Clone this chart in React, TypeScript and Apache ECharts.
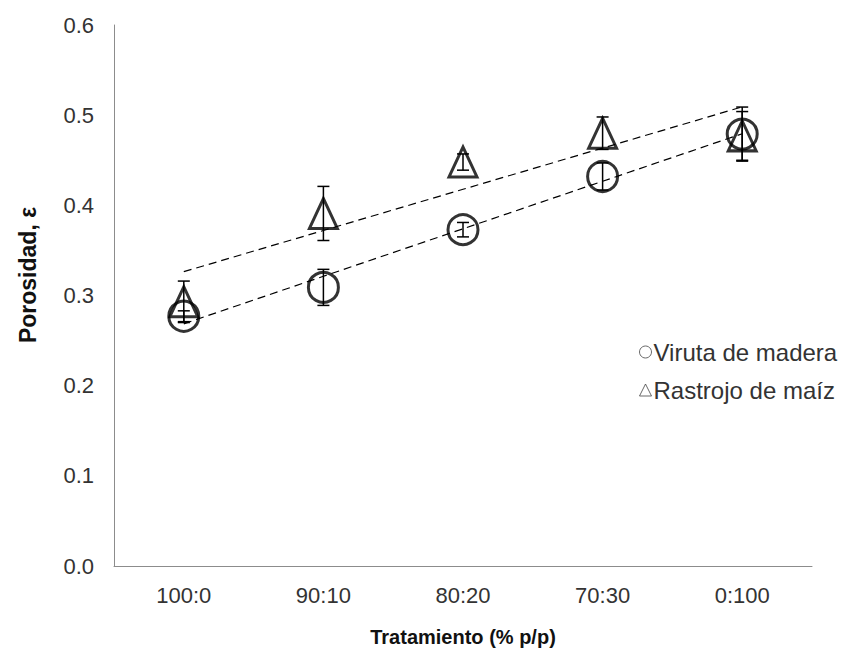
import React, { useEffect, useRef } from "react";
import * as echarts from "echarts";

const categories = ["100:0", "90:10", "80:20", "70:30", "0:100"];
const virutaMean = [0.277, 0.309, 0.373, 0.432, 0.479];
const virutaErr = [0.006, 0.02, 0.008, 0.015, 0.03];
const rastrojoMean = [0.293, 0.391, 0.448, 0.48, 0.477];
const rastrojoErr = [0.023, 0.03, 0.009, 0.018, 0.027];
const yTicks = [0, 0.1, 0.2, 0.3, 0.4, 0.5, 0.6];

const FONT = "'Liberation Sans', Arial, sans-serif";

function linearFit(ys: number[]): number[] {
  const n = ys.length;
  const xs = ys.map((_, i) => i);
  const mx = xs.reduce((a, b) => a + b, 0) / n;
  const my = ys.reduce((a, b) => a + b, 0) / n;
  let num = 0;
  let den = 0;
  xs.forEach((x, i) => {
    num += (x - mx) * (ys[i] - my);
    den += (x - mx) * (x - mx);
  });
  const b = num / den;
  return xs.map((x) => my + b * (x - mx));
}

function errorSeries(mean: number[], err: number[]) {
  return {
    type: "custom",
    z: 5,
    silent: true,
    data: mean.map((m, i) => [i, m - err[i], m + err[i]]),
    renderItem: (params: any, api: any) => {
      const x = api.value(0);
      const lo = api.coord([x, api.value(1)]);
      const hi = api.coord([x, api.value(2)]);
      const cap = 6;
      const style = { stroke: "#000", lineWidth: 1.5 };
      return {
        type: "group",
        children: [
          { type: "line", shape: { x1: lo[0], y1: lo[1], x2: hi[0], y2: hi[1] }, style },
          { type: "line", shape: { x1: lo[0] - cap, y1: lo[1], x2: lo[0] + cap, y2: lo[1] }, style },
          { type: "line", shape: { x1: hi[0] - cap, y1: hi[1], x2: hi[0] + cap, y2: hi[1] }, style },
        ],
      };
    },
  };
}

export default function App() {
  const ref = useRef<HTMLDivElement>(null);
  useEffect(() => {
    if (!ref.current) return;
    const chart = echarts.init(ref.current, undefined, { renderer: "svg" });
    const trendStyle = { color: "#000", width: 1.2, type: [8, 5] as any };
    chart.setOption({
      animation: false,
      backgroundColor: "#fff",
      textStyle: { fontFamily: FONT },
      grid: { left: 114, top: 25, right: 34, bottom: 90, containLabel: false },
      graphic: [
        {
          type: "text",
          x: 28,
          y: 275,
          rotation: Math.PI / 2,
          style: {
            text: "Porosidad, ε",
            fontSize: 23,
            fontWeight: "bold",
            fontFamily: FONT,
            fill: "#111",
            align: "center",
            verticalAlign: "middle",
          },
        },
      ],
      legend: {
        orient: "vertical",
        left: 634,
        top: 335,
        itemGap: 14,
        itemWidth: 12,
        itemHeight: 12,
        textStyle: { fontSize: 24, color: "#333", fontFamily: FONT, padding: [0, 0, 0, -3] },
        data: [
          { name: "Viruta de madera", icon: "circle", itemStyle: { color: "transparent", borderColor: "#444", borderWidth: 1 } },
          { name: "Rastrojo de maíz", icon: "triangle", itemStyle: { color: "transparent", borderColor: "#444", borderWidth: 1 } },
        ],
      },
      xAxis: {
        type: "category",
        data: categories,
        boundaryGap: true,
        name: "Tratamiento (% p/p)",
        nameLocation: "middle",
        nameGap: 61,
        nameTextStyle: { fontSize: 20, fontWeight: "bold", color: "#111", fontFamily: FONT },
        axisLine: { lineStyle: { color: "#8c8c8c", width: 1 } },
        axisTick: { show: false },
        axisLabel: { fontSize: 22, color: "#333", margin: 18, fontFamily: FONT },
        splitLine: { show: false },
      },
      yAxis: {
        type: "value",
        min: yTicks[0],
        max: yTicks[yTicks.length - 1],
        interval: 0.1,
        axisLine: { show: true, lineStyle: { color: "#8c8c8c", width: 1 } },
        axisTick: { show: false },
        splitLine: { show: false },
        axisLabel: {
          fontSize: 22,
          color: "#333",
          margin: 20,
          fontFamily: FONT,
          formatter: (v: number) => v.toFixed(1),
        },
      },
      series: [
        {
          type: "line",
          data: linearFit(virutaMean),
          showSymbol: false,
          symbol: "none",
          lineStyle: trendStyle,
          z: 1,
          silent: true,
        },
        {
          type: "line",
          data: linearFit(rastrojoMean),
          showSymbol: false,
          symbol: "none",
          lineStyle: trendStyle,
          z: 1,
          silent: true,
        },
        {
          name: "Viruta de madera",
          type: "scatter",
          data: virutaMean,
          symbol: "circle",
          symbolSize: 30,
          itemStyle: { color: "transparent", borderColor: "#000", borderWidth: 3 },
          z: 3,
        },
        {
          name: "Rastrojo de maíz",
          type: "scatter",
          data: rastrojoMean,
          symbol: "triangle",
          symbolSize: [28, 30],
          itemStyle: { color: "transparent", borderColor: "#000", borderWidth: 3 },
          z: 3,
        },
        errorSeries(virutaMean, virutaErr),
        errorSeries(rastrojoMean, rastrojoErr),
      ],
    });
    return () => chart.dispose();
  }, []);
  return <div ref={ref} style={{ width: 846, height: 656, margin: -8 }} />;
}
